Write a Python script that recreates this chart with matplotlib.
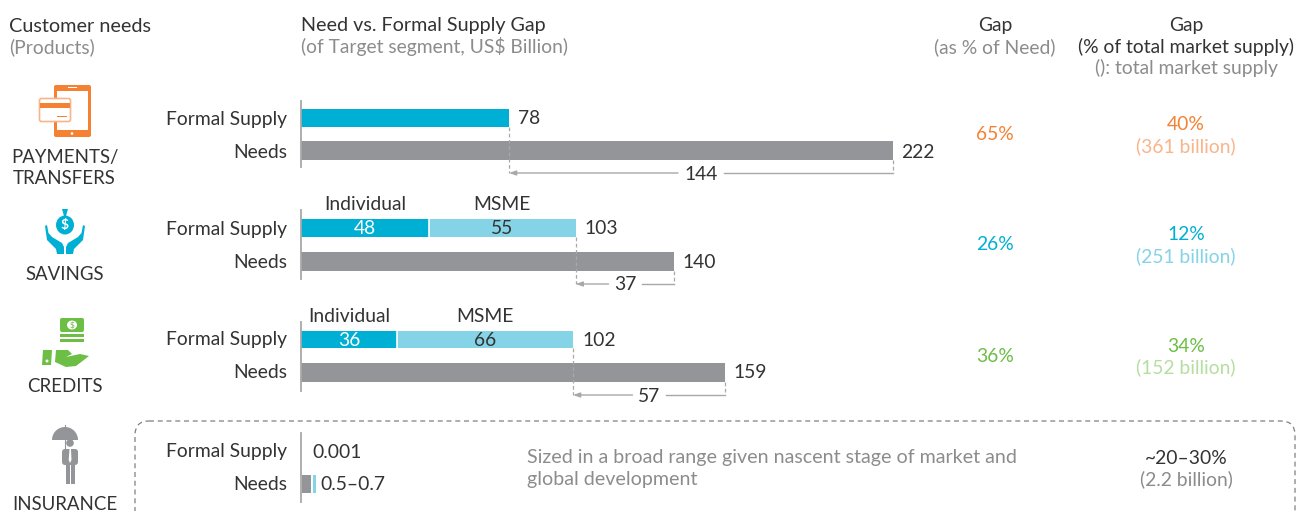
import numpy as np
import matplotlib
matplotlib.use("Agg")
import matplotlib.pyplot as plt
from matplotlib.patches import FancyBboxPatch, Rectangle, Circle, Ellipse, Polygon, Wedge

plt.rcParams['font.family'] = ['Lato', 'DejaVu Sans']

# Data (US$ billion)
products = ["PAYMENTS/\nTRANSFERS", "SAVINGS", "CREDITS", "INSURANCE"]
supply_individual = [78, 48, 36]
supply_msme = [0, 55, 66]
supply_total = [78, 103, 102]
needs = [222, 140, 159]
gaps = [144, 37, 57]
gap_pct_need = ["65%", "26%", "36%"]
gap_pct_market = ["40%", "12%", "34%", "~20\u201330%"]
market_supply = ["(361 billion)", "(251 billion)", "(152 billion)", "(2.2 billion)"]
# insurance bar is schematic in the source, not to scale with the others
insurance_needs_parts = [3.4, 1.1]
insurance_supply_label = "0.001"
insurance_needs_label = "0.5\u20130.7"

DARK = "#333333"
GREY = "#8c8c8c"
BAR_GREY = "#939598"
AXIS_GREY = "#a8a8a8"
ORANGE = "#f58233"
ORANGE_L = "#f9b48a"
CYAN = "#00b0d4"
CYAN_L = "#85d3e6"
GREEN = "#6cbe45"
GREEN_L = "#b5dea0"
FS = 13.9

W, H = 1298, 511
X0 = 301
PX_PER_UNIT = 592 / 222

fig = plt.figure(figsize=(W / 100, H / 100), dpi=100)

# pixel axes for the text and icons
ax = fig.add_axes([0, 0, 1, 1])
ax.set_xlim(0, W)
ax.set_ylim(H, 0)
ax.axis("off")

# bar axes: x in US$ billion, y in picture rows
bx = fig.add_axes([0, 0, 1, 1], facecolor="none")
bx.set_xlim(-X0 / PX_PER_UNIT, (W - X0) / PX_PER_UNIT)
bx.set_ylim(H, 0)
bx.axis("off")


def txt(x, y, s, color=DARK, ha="left", size=FS, **kw):
    ax.text(x, y + 1, s, color=color, ha=ha, va="center", fontsize=size, **kw)


# Headers
txt(9, 25, "Customer needs", size=14.3)
txt(9, 46, "(Products)", GREY)
txt(301, 25, "Need vs. Formal Supply Gap", size=14.2)
txt(301, 46, "(of Target segment, US$ Billion)", GREY)
txt(995, 25, "Gap", ha="center")
txt(995, 46, "(as % of Need)", GREY, ha="center")
txt(1186, 25, "Gap", ha="center")
txt(1186, 46, "(% of total market supply)", ha="center")
txt(1186, 67, "(): total market supply", GREY, ha="center")

# Rows: supply bar top/bottom, needs bar top/bottom, axis line top/bottom
supply_rows = [(109, 127), (219, 237), (331, 348)]
needs_rows = [(141, 160), (252, 271), (363, 382)]
axis_rows = [(101, 167), (210, 279), (322, 391)]
gap_y = [173, 284, 395]
label_y = [118, 228, 339]
need_label_y = [151, 261, 372]
seg_label_x = [None, (365, 502), (349, 485)]
main_col = [ORANGE, CYAN, GREEN]
light_col = [ORANGE_L, CYAN_L, GREEN_L]
pct_y = [134, 244, 356]
market_y = [(123, 145), (234, 255), (345, 366)]

for i in range(3):
    st, sb = supply_rows[i]
    nt, nb = needs_rows[i]
    bx.barh((st + sb) / 2, supply_individual[i], height=sb - st, color=CYAN, lw=0)
    if supply_msme[i]:
        bx.barh((st + sb) / 2, supply_msme[i], left=supply_individual[i], height=sb - st,
                color=CYAN_L, lw=0)
        # thin white break between the segments
        bx.plot([supply_individual[i]] * 2, [st, sb], color="white", lw=1.2)
        bx.text(supply_individual[i] / 2, (st + sb) / 2 + 1, str(supply_individual[i]),
                color="white", ha="center", va="center", fontsize=FS)
        bx.text(supply_individual[i] + supply_msme[i] / 2, (st + sb) / 2 + 1, str(supply_msme[i]),
                color=DARK, ha="center", va="center", fontsize=FS)
        txt(seg_label_x[i][0], 204 if i == 1 else 315, "Individual", ha="center")
        txt(seg_label_x[i][1], 204 if i == 1 else 315, "MSME", ha="center")
    bx.barh((nt + nb) / 2, needs[i], height=nb - nt, color=BAR_GREY, lw=0)
    bx.plot([0, 0], axis_rows[i], color=AXIS_GREY, lw=1.3)

    bx.text(supply_total[i] + 3.4, label_y[i] + 1, str(supply_total[i]), color=DARK,
            va="center", fontsize=FS)
    bx.text(needs[i] + 3.2, need_label_y[i] + 1, str(needs[i]), color=DARK,
            va="center", fontsize=FS)
    txt(287, label_y[i], "Formal Supply", ha="right")
    txt(287, need_label_y[i], "Needs", ha="right")

    # gap bracket: dashed drops from the bar ends, arrow back to the supply end
    bx.plot([supply_total[i]] * 2, [sb, gap_y[i]], color=AXIS_GREY, lw=0.9, ls=(0, (3, 2)))
    bx.plot([needs[i]] * 2, [nb, gap_y[i]], color=AXIS_GREY, lw=0.9, ls=(0, (3, 2)))
    mid = (supply_total[i] + needs[i]) / 2
    half = (23 if gaps[i] >= 100 else 16.5) / PX_PER_UNIT
    bx.annotate("", xy=(supply_total[i], gap_y[i]), xytext=(mid - half, gap_y[i]),
                arrowprops=dict(arrowstyle="-|>,head_width=0.14,head_length=0.4",
                                color=AXIS_GREY, lw=1, shrinkA=0, shrinkB=0))
    bx.plot([mid + half, needs[i]], [gap_y[i]] * 2, color=AXIS_GREY, lw=1)
    bx.text(mid, gap_y[i] + 1, str(gaps[i]), color=DARK, ha="center", va="center", fontsize=FS)

    txt(995, pct_y[i], gap_pct_need[i], main_col[i], ha="center")
    txt(1186, market_y[i][0], gap_pct_market[i], main_col[i], ha="center")
    txt(1186, market_y[i][1], market_supply[i], light_col[i], ha="center")

# Insurance row
ax.add_patch(FancyBboxPatch((135, 421), 1160, 140, boxstyle="round,pad=0,rounding_size=14",
                            fc="none", ec="#808080", lw=0.9, ls=(0, (4, 3))))
bx.plot([0, 0], [433, 502], color=AXIS_GREY, lw=1.3)
bx.barh(484, insurance_needs_parts[0], left=0.2, height=18, color=BAR_GREY, lw=0)
bx.barh(484, insurance_needs_parts[1], left=4.4, height=18, color=CYAN_L, lw=0)
txt(287, 451, "Formal Supply", ha="right")
txt(287, 484, "Needs", ha="right")
txt(312, 451, insurance_supply_label)
txt(320, 484, insurance_needs_label)
txt(527, 457, "Sized in a broad range given nascent stage of market and", GREY, size=14.15)
txt(527, 478, "global development", GREY, size=14.15)
txt(1186, 457, gap_pct_market[3], ha="center")
txt(1186, 478, market_supply[3], GREY, ha="center")

# Product names
txt(64.5, 167, products[0], ha="center", size=13.4, linespacing=1.32)
txt(64.5, 273, products[1], ha="center", size=13.4)
txt(64.5, 385, products[2], ha="center", size=13.4)
txt(64.5, 503, products[3], ha="center", size=13.4)


# Icons, drawn in picture pixels
def icon_payments():
    ax.add_patch(FancyBboxPatch((54, 85), 37, 52, boxstyle="round,pad=0,rounding_size=2",
                                fc=ORANGE, lw=0))
    ax.add_patch(Rectangle((57, 91), 31, 39, fc="white", lw=0))
    ax.add_patch(Rectangle((68, 87), 9, 1.5, fc="white", lw=0))
    ax.add_patch(Circle((72, 133.5), 1.3, fc="white", lw=0))
    ax.add_patch(FancyBboxPatch((39.5, 98.5), 31, 23, boxstyle="round,pad=0,rounding_size=2",
                                fc="white", ec=ORANGE_L, lw=1.2))
    ax.add_patch(Rectangle((40, 103), 30, 5, fc=ORANGE, lw=0))
    ax.add_patch(Rectangle((57, 116), 10, 1.2, fc=ORANGE, lw=0))


def icon_savings():
    ax.add_patch(Ellipse((65, 225), 18, 19, fc=CYAN, lw=0))
    ax.add_patch(Polygon([(62, 209), (68, 209), (66, 216), (64, 216)], fc=CYAN, lw=0))
    ax.text(65, 225, "$", color="white", ha="center", va="center", fontsize=10, fontweight="bold")
    ax.add_patch(Polygon([(45, 226), (47, 225), (48.5, 233), (52, 237), (62, 243), (64, 247),
                          (64, 254), (57, 254), (56, 249), (47, 240)], fc=CYAN, lw=0))
    ax.add_patch(Polygon([(85, 226), (83, 225), (81.5, 233), (78, 237), (68, 243), (66, 247),
                          (66, 254), (73, 254), (74, 249), (83, 240)], fc=CYAN, lw=0))


def icon_credits():
    ax.add_patch(FancyBboxPatch((60, 318), 24, 14, boxstyle="round,pad=0,rounding_size=2",
                                fc=GREEN, lw=0))
    ax.add_patch(Ellipse((72, 325), 10, 9, fc="white", lw=0))
    ax.text(72, 325, "$", color=GREEN, ha="center", va="center", fontsize=6)
    ax.add_patch(Rectangle((60, 334), 24, 3, fc=GREEN, lw=0))
    ax.add_patch(Rectangle((60, 339), 24, 3, fc=GREEN, lw=0))
    ax.add_patch(Polygon([(43, 350), (52, 350), (51, 365), (42, 365)], fc=GREEN, lw=0))
    ax.add_patch(Circle((47, 361), 1.5, fc="white", lw=0))
    ax.add_patch(Polygon([(56, 350), (68, 350), (72, 354), (66, 357), (80, 354), (89, 356),
                          (76, 366), (66, 367), (55, 362)], fc=GREEN, lw=0))


def icon_insurance():
    # y axis is inverted here, so 180-360 is the top half of the canopy
    ax.add_patch(Wedge((65, 440), 13, 180, 360, fc=BAR_GREY, lw=0))
    ax.plot([65, 65], [425, 452], color=BAR_GREY, lw=0.8)
    ax.add_patch(Circle((70, 443), 3.8, fc=BAR_GREY, lw=0))
    ax.add_patch(FancyBboxPatch((62, 449), 16, 16, boxstyle="round,pad=0,rounding_size=3",
                                fc=BAR_GREY, lw=0))
    ax.add_patch(Rectangle((66, 463), 4, 21, fc=BAR_GREY, lw=0))
    ax.add_patch(Rectangle((71, 463), 4, 21, fc=BAR_GREY, lw=0))
    ax.add_patch(Polygon([(69.5, 449), (71, 449), (71.5, 460), (70, 463), (68.7, 460)],
                         fc="white", lw=0))


icon_payments()
icon_savings()
icon_credits()
icon_insurance()

fig.savefig("out.png", dpi=100)
